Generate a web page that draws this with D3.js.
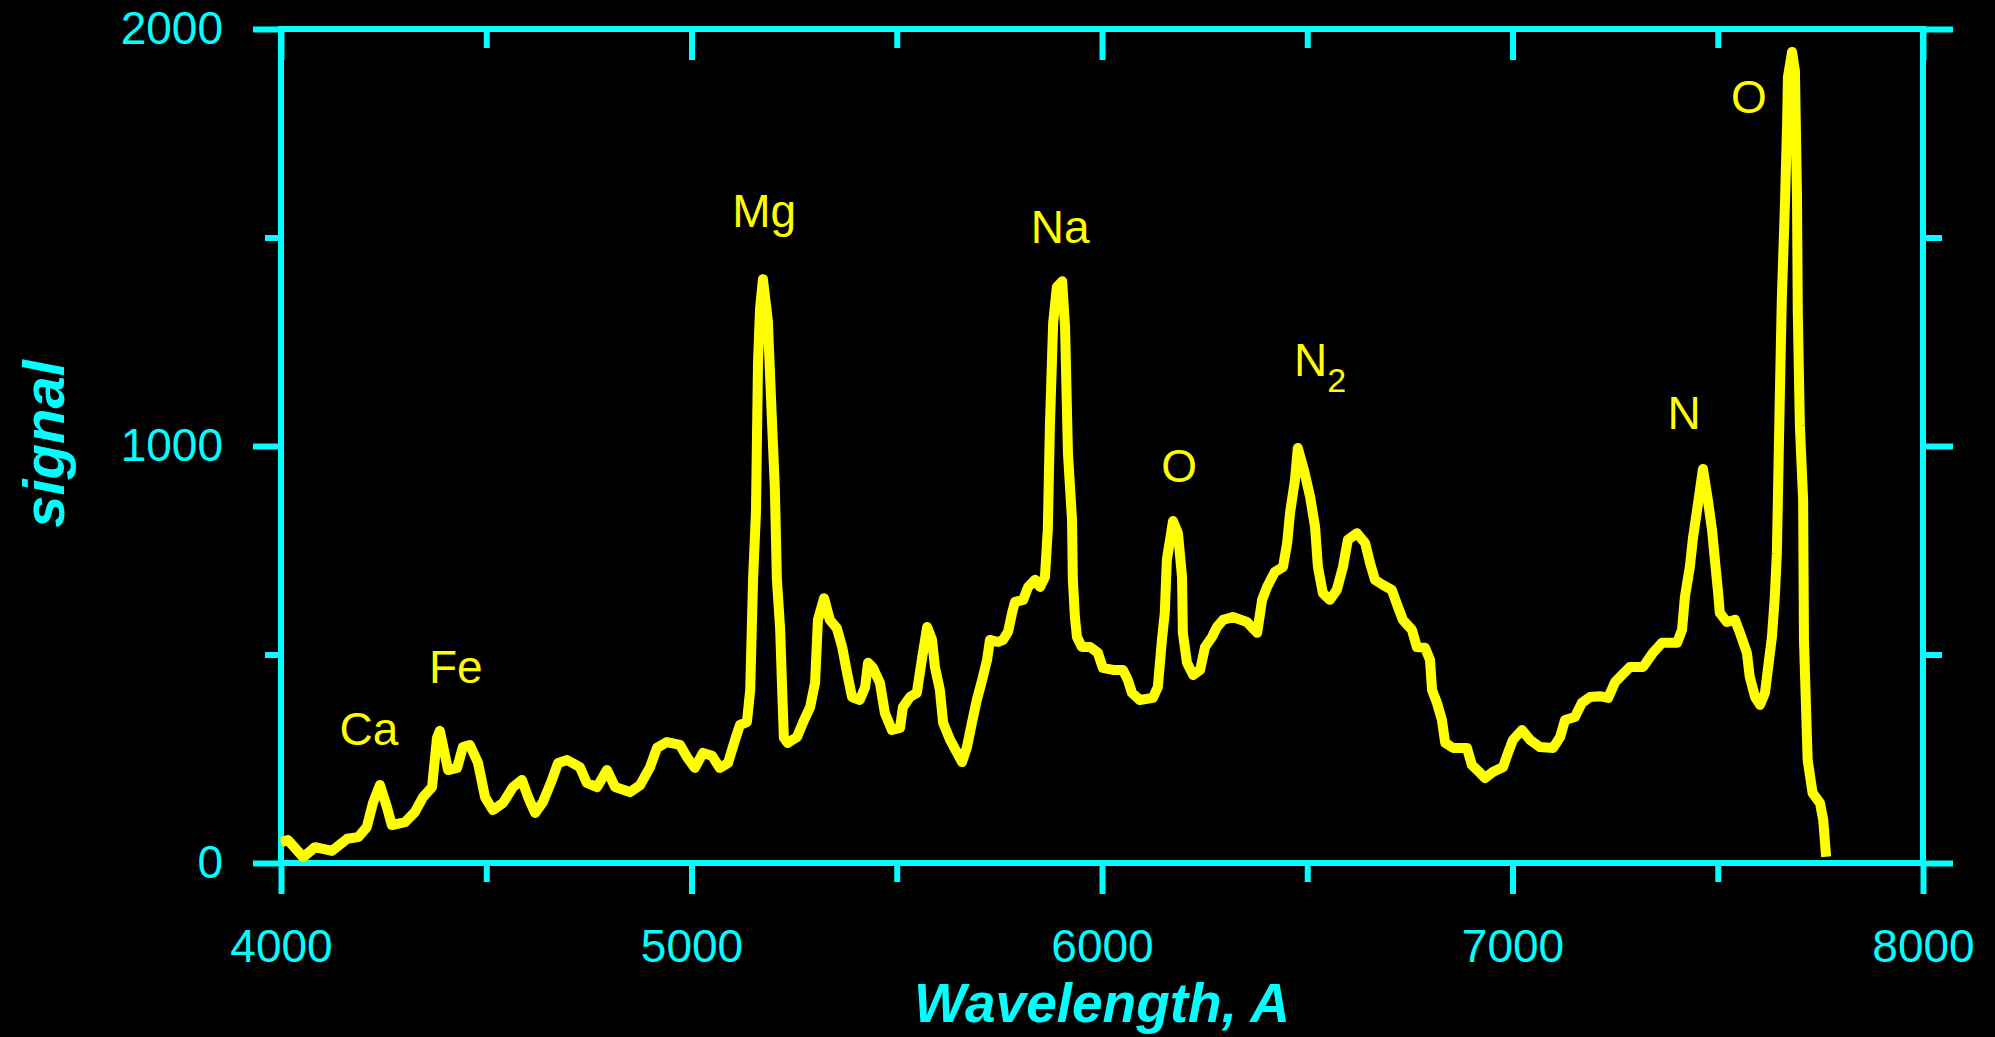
<!DOCTYPE html>
<html><head><meta charset="utf-8">
<script src="https://cdn.jsdelivr.net/npm/d3@7"></script>
<style>html,body{margin:0;padding:0;background:#000;overflow:hidden}</style>
</head><body><svg id="chart" width="1995" height="1037"></svg>
<script>
const wavelength = [4000,4017,4054,4083,4124,4161,4188,4209,4224,4241,4258,4270,4302,4326,4346,4368,4380,4387,4407,4429,4443,4460,4480,4497,4516,4541,4565,4587,4602,4619,4638,4660,4675,4697,4728,4745,4770,4794,4814,4850,4875,4899,4916,4940,4972,4989,5008,5028,5050,5069,5089,5106,5118,5135,5143,5150,5157,5162,5167,5174,5186,5196,5203,5208,5216,5220,5225,5234,5257,5272,5289,5301,5308,5323,5337,5354,5367,5379,5391,5410,5423,5430,5442,5459,5471,5488,5508,5515,5532,5549,5561,5574,5586,5593,5605,5613,5630,5647,5659,5671,5683,5695,5708,5720,5727,5747,5759,5771,5781,5788,5808,5820,5837,5849,5861,5868,5873,5881,5890,5903,5910,5917,5927,5929,5934,5939,5951,5971,5990,6002,6027,6051,6063,6073,6092,6124,6136,6146,6153,6158,6173,6185,6195,6197,6207,6222,6239,6251,6268,6280,6295,6319,6353,6378,6390,6402,6421,6441,6451,6458,6470,6477,6492,6507,6519,6526,6538,6555,6572,6587,6599,6621,6641,6653,6665,6684,6706,6721,6733,6755,6767,6787,6799,6804,6816,6828,6836,6855,6889,6901,6921,6933,6952,6977,6989,7001,7023,7043,7067,7099,7116,7128,7152,7169,7189,7213,7233,7250,7269,7286,7318,7342,7364,7401,7413,7420,7432,7440,7449,7464,7476,7486,7493,7501,7505,7522,7542,7554,7571,7578,7591,7603,7615,7622,7632,7639,7644,7647,7651,7656,7664,7669,7671,7681,7688,7693,7695,7700,7708,7710,7719,7731,7749,7757,7764];
const signal = [50,55,14,38,29,58,62,86,144,187,134,91,98,122,158,182,300,317,223,228,278,283,240,158,127,144,182,199,158,120,146,199,240,247,230,192,182,223,182,170,187,230,276,290,283,254,228,264,257,228,240,295,331,338,415,680,840,1200,1330,1400,1300,1060,900,680,560,440,300,288,302,338,374,432,583,635,583,563,518,456,398,391,422,480,468,432,360,319,324,374,398,408,487,566,535,470,415,336,295,264,242,278,336,391,439,487,535,530,535,554,600,626,631,662,679,662,686,800,1046,1295,1381,1395,1285,983,822,679,590,542,518,518,504,468,463,463,439,408,391,396,422,535,600,727,820,791,686,552,480,451,463,518,542,566,583,590,578,552,631,662,698,710,767,839,918,995,942,878,806,710,647,631,655,710,775,791,767,719,679,667,655,614,583,559,518,516,487,415,384,343,288,276,276,235,216,204,218,230,264,295,319,295,278,276,302,343,350,384,398,400,396,434,453,470,470,504,528,528,559,638,710,782,842,945,870,799,727,647,600,578,583,552,504,446,398,379,408,463,542,638,743,900,1110,1350,1590,1775,1885,1945,1900,1600,1320,1050,870,535,247,168,144,103,15];

const xMajorTicks = [4000, 5000, 6000, 7000, 8000];
const xMinorTicks = [4500, 5500, 6500, 7500];
const yMajorTicks = [0, 1000, 2000];
const yMinorTicks = [500, 1500];

const peakNames = ["Ca", "Fe", "Mg", "Na", "O", "N", "N", "O"];
const peakSubscripts = ["", "", "", "", "", "2", "", ""];
const peakLabelWavelength = [4214, 4426, 5177, 5898, 6188, 6531, 7418, 7576];
const peakLabelSignal = [283, 432, 1525, 1487, 914, 1168, 1041, 1799];

const xTitle = "Wavelength, A";
const yTitle = "signal";

const CYAN = "#00FFFF", YELLOW = "#FFFF00";
const svg = d3.select("#chart");
svg.append("rect").attr("width", 1995).attr("height", 1037).attr("fill", "#000");

const x = d3.scaleLinear().domain([4000, 8000]).range([281, 1923]);
const y = d3.scaleLinear().domain([0, 2000]).range([863, 29]);

function styleAxis(g) {
  g.select(".domain").remove();
  g.selectAll(".tick line").attr("stroke", CYAN).attr("stroke-width", 6);
  g.selectAll(".tick text").attr("fill", CYAN)
    .style("font-family", "'Liberation Sans', Arial, sans-serif").style("font-size", "46px");
}

// left
svg.append("g").attr("transform", `translate(${x(4000)},0)`)
  .call(d3.axisLeft(y).tickValues(yMajorTicks).tickSize(28).tickPadding(30).tickFormat(d3.format("d")))
  .call(styleAxis);
svg.append("g").attr("transform", `translate(${x(4000)},0)`)
  .call(d3.axisLeft(y).tickValues(yMinorTicks).tickSize(16).tickFormat(""))
  .call(styleAxis);
// right
svg.append("g").attr("transform", `translate(${x(8000)},0)`)
  .call(d3.axisRight(y).tickValues(yMajorTicks).tickSize(30).tickFormat(""))
  .call(styleAxis);
svg.append("g").attr("transform", `translate(${x(8000)},0)`)
  .call(d3.axisRight(y).tickValues(yMinorTicks).tickSize(19).tickFormat(""))
  .call(styleAxis);
// bottom
svg.append("g").attr("transform", `translate(0,${y(0)})`)
  .call(d3.axisBottom(x).tickValues(xMajorTicks).tickSize(31).tickPadding(35).tickFormat(d3.format("d")))
  .call(styleAxis);
svg.append("g").attr("transform", `translate(0,${y(0)})`)
  .call(d3.axisBottom(x).tickValues(xMinorTicks).tickSize(19).tickFormat(""))
  .call(styleAxis);
// top (inward)
svg.append("g").attr("transform", `translate(0,${y(2000)})`)
  .call(d3.axisTop(x).tickValues(xMajorTicks).tickSize(-31).tickFormat(""))
  .call(styleAxis);
svg.append("g").attr("transform", `translate(0,${y(2000)})`)
  .call(d3.axisTop(x).tickValues(xMinorTicks).tickSize(-19).tickFormat(""))
  .call(styleAxis);

// frame
svg.append("rect")
  .attr("x", x(4000)).attr("y", y(2000))
  .attr("width", x(8000) - x(4000)).attr("height", y(0) - y(2000))
  .attr("fill", "none").attr("stroke", CYAN).attr("stroke-width", 6);

// spectrum
const pts = wavelength.map((w, i) => [w, signal[i]]);
svg.append("path").datum(pts)
  .attr("fill", "none").attr("stroke", YELLOW).attr("stroke-width", 10)
  .attr("stroke-linejoin", "round")
  .attr("d", d3.line().x(d => x(d[0])).y(d => y(d[1])));

// peak labels
peakNames.forEach((name, i) => {
  const t = svg.append("text")
    .attr("x", x(peakLabelWavelength[i])).attr("y", y(peakLabelSignal[i]))
    .attr("text-anchor", "middle").attr("fill", YELLOW)
    .style("font-family", "'Liberation Sans', Arial, sans-serif").style("font-size", "46px");
  t.append("tspan").text(name);
  if (peakSubscripts[i]) {
    t.append("tspan").attr("dy", 16).style("font-size", "34px").text(peakSubscripts[i]);
  }
});

// axis titles
svg.append("text")
  .attr("x", x(6000)).attr("y", 1022).attr("text-anchor", "middle").attr("fill", CYAN)
  .style("font-family", "'Liberation Sans', Arial, sans-serif").style("font-size", "55px")
  .style("font-weight", "bold").style("font-style", "italic")
  .text(xTitle);
svg.append("text")
  .attr("transform", "translate(64,444) rotate(-90)")
  .attr("text-anchor", "middle").attr("fill", CYAN)
  .style("font-family", "'Liberation Sans', Arial, sans-serif").style("font-size", "58px")
  .style("font-weight", "bold").style("font-style", "italic")
  .text(yTitle);
</script>
</body></html>
